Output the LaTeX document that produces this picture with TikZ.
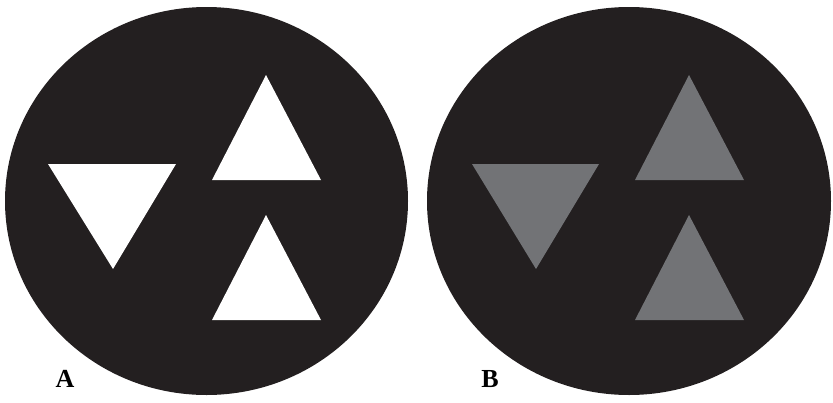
\documentclass[tikz,border=0pt]{standalone}
\usepackage{fontspec}
\setmainfont{Liberation Serif}
\definecolor{disc}{HTML}{231F20}
\definecolor{grey}{HTML}{727376}
\begin{document}
\begin{tikzpicture}[x=1pt,y=-1pt,
  discshape/.style={fill=disc},
  label/.style={font=\bfseries\fontsize{26}{26}\selectfont, text=black, inner sep=0pt}]
\useasboundingbox (0,0) rectangle (833,402);
% panel A
\fill[discshape] (206.5,201) ellipse [x radius=201.5, y radius=194];
\fill[white] (48,164) -- (176,164) -- (113,269) -- cycle;
\fill[white] (266,75) -- (321,180) -- (212,180) -- cycle;
\fill[white] (266,215) -- (321,320) -- (212,320) -- cycle;
\node[label] (la) at (65,379) {A};
% panel B
\fill[discshape] (629,201) ellipse [x radius=202, y radius=194];
\fill[grey] (472,164) -- (599,164) -- (536,269) -- cycle;
\fill[grey] (689,75) -- (744,180) -- (635,180) -- cycle;
\fill[grey] (689,215) -- (744,320) -- (635,320) -- cycle;
\node[label] (lb) at (490,379) {B};
\end{tikzpicture}
\end{document}
